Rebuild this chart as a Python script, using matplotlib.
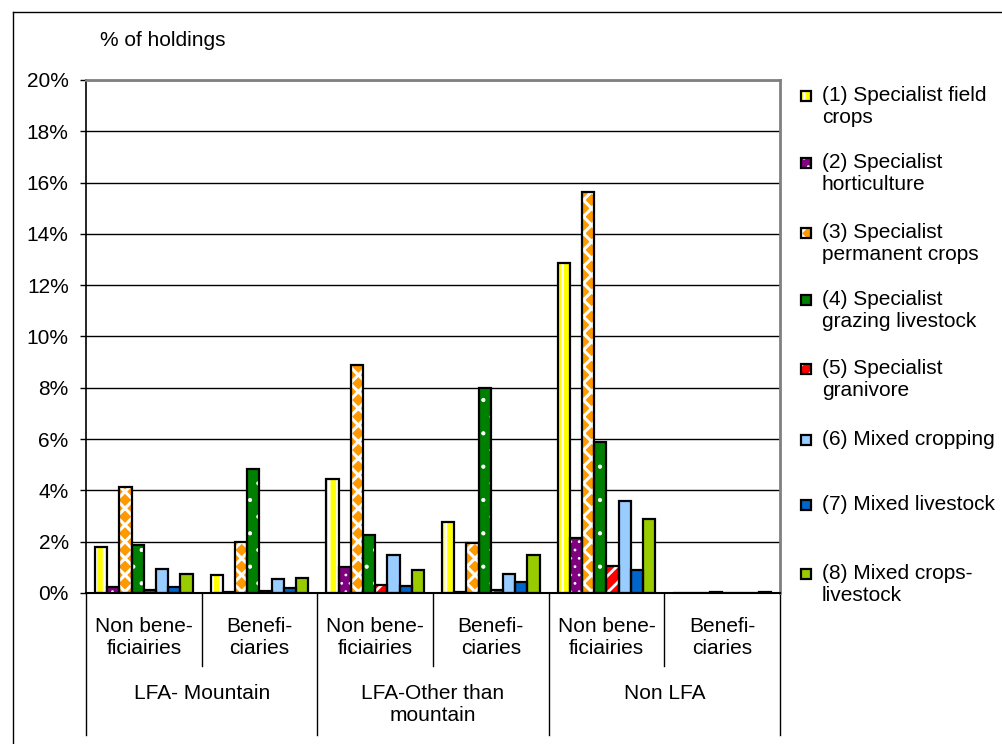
import matplotlib
matplotlib.use("Agg")
import matplotlib.pyplot as plt
from matplotlib.patches import Rectangle
from matplotlib.lines import Line2D
import numpy as np

plt.rcParams['font.family'] = ['Liberation Sans', 'DejaVu Sans']
plt.rcParams['hatch.linewidth'] = 2.0

# ---- data ----
categories = ["Non bene-\nficiairies", "Benefi-\nciaries",
              "Non bene-\nficiairies", "Benefi-\nciaries",
              "Non bene-\nficiairies", "Benefi-\nciaries"]
groups = ["LFA- Mountain", "LFA-Other than\nmountain", "Non LFA"]
series_names = ["(1) Specialist field\ncrops", "(2) Specialist\nhorticulture",
                "(3) Specialist\npermanent crops", "(4) Specialist\ngrazing livestock",
                "(5) Specialist\ngranivore", "(6) Mixed cropping",
                "(7) Mixed livestock", "(8) Mixed crops-\nlivestock"]
s1 = [1.80, 0.70, 4.45, 2.75, 12.85, 0.0]
s2 = [0.22, 0.02, 1.00, 0.03, 2.15, 0.0]
s3 = [4.15, 1.98, 8.90, 1.95, 15.65, 0.0]
s4 = [1.88, 4.85, 2.28, 7.98, 5.88, 0.05]
s5 = [0.10, 0.08, 0.30, 0.13, 1.05, 0.0]
s6 = [0.95, 0.56, 1.47, 0.75, 3.60, 0.0]
s7 = [0.23, 0.21, 0.26, 0.43, 0.88, 0.0]
s8 = [0.74, 0.60, 0.88, 1.50, 2.88, 0.04]
series = [s1, s2, s3, s4, s5, s6, s7, s8]
yticks = [0, 2, 4, 6, 8, 10, 12, 14, 16, 18, 20]

# ---- styles ----
faces = ['#FFFF00', '#800080', '#FF9900', '#008000', '#FF0000', '#99CCFF', '#0066CC', '#99CC00']
hatches = ['||', '..', 'xx', '.', '//', None, None, None]
hatch_lw = [2.0, 0.8, 2.2, 0.6, 2.0, 1.0, 1.0, 1.0]

W, H = 1003, 744
fig = plt.figure(figsize=(W / 100, H / 100), dpi=100)
fig.patch.set_facecolor('white')

def fx(x):
    return x / W

def fy(y):
    return 1 - y / H

ax = fig.add_axes([fx(86), fy(593), (780 - 86) / W, (593 - 80) / H])
ax.set_axisbelow(True)

n = len(series)
x = np.arange(len(categories))
bw = 1 / 9.5
for i, (vals, fc, hp, hl) in enumerate(zip(series, faces, hatches, hatch_lw)):
    pos = x + (i - (n - 1) / 2) * bw
    with plt.rc_context({'hatch.linewidth': hl}):
        ax.bar(pos, vals, width=bw, facecolor=fc, edgecolor='white', hatch=hp,
               linewidth=0, zorder=2)
    ax.bar(pos, vals, width=bw, facecolor='none', edgecolor='black',
           linewidth=1.6, zorder=3)

ax.set_xlim(-0.5, len(categories) - 0.5)
ax.set_ylim(0, 20)
ax.set_yticks(yticks)
ax.set_yticklabels([f"{v}%" for v in yticks], fontsize=15)
ax.tick_params(axis='y', direction='out', length=4.5, width=1, pad=8, colors='black')
ax.set_xticks([])
ax.yaxis.grid(True, color='black', linewidth=1)

for side in ['top', 'right']:
    ax.spines[side].set_color('#808080')
    ax.spines[side].set_linewidth(2)
ax.spines['left'].set_color('black')
ax.spines['left'].set_linewidth(1.2)
ax.spines['bottom'].set_color('black')
ax.spines['bottom'].set_linewidth(1.5)

# ---- two-level category axis ----
tr = ax.get_xaxis_transform()
axh = 593 - 80
for xb in [-0.5, 1.5, 3.5, 5.5]:
    ax.plot([xb, xb], [0, -(735 - 593) / axh], transform=tr, color='black',
            lw=1, clip_on=False)
for xb in [0.5, 2.5, 4.5]:
    ax.plot([xb, xb], [0, -(666 - 593) / axh], transform=tr, color='black',
            lw=1, clip_on=False)
for i, lab in enumerate(categories):
    ax.text(i, -(637 - 593) / axh, lab, transform=tr, ha='center', va='center',
            fontsize=15, linespacing=1.2)
for g, lab in enumerate(groups):
    ax.text(2 * g + 0.5, -(684 - 593) / axh, lab, transform=tr, ha='center',
            va='top', fontsize=15, linespacing=1.2)

# ---- axis title ----
fig.text(fx(100), fy(40), "% of holdings", fontsize=15, ha='left', va='center')

# ---- legend ----
leg_y = [96, 163, 233, 300, 369, 440, 505, 574]
for name, fc, hp, hl, yy in zip(series_names, faces, hatches, hatch_lw, leg_y):
    with plt.rc_context({'hatch.linewidth': hl}):
        r1 = Rectangle((fx(801), fy(yy + 5)), 10 / W, 10 / H, transform=fig.transFigure,
                       facecolor=fc, edgecolor='white', hatch=hp, linewidth=0)
    r2 = Rectangle((fx(801), fy(yy + 5)), 10 / W, 10 / H, transform=fig.transFigure,
                   facecolor='none', edgecolor='black', linewidth=1.6)
    fig.add_artist(r1)
    fig.add_artist(r2)
    fig.text(fx(822), fy(yy - 10), name, fontsize=15, ha='left', va='top',
             linespacing=1.2)

# ---- outer frame ----
fig.add_artist(Line2D([fx(13), 1.0], [fy(12), fy(12)], transform=fig.transFigure,
                      color='black', lw=1))
fig.add_artist(Line2D([fx(13), fx(13)], [fy(12), 0.0], transform=fig.transFigure,
                      color='black', lw=1))

fig.savefig('out.png', dpi=100)
